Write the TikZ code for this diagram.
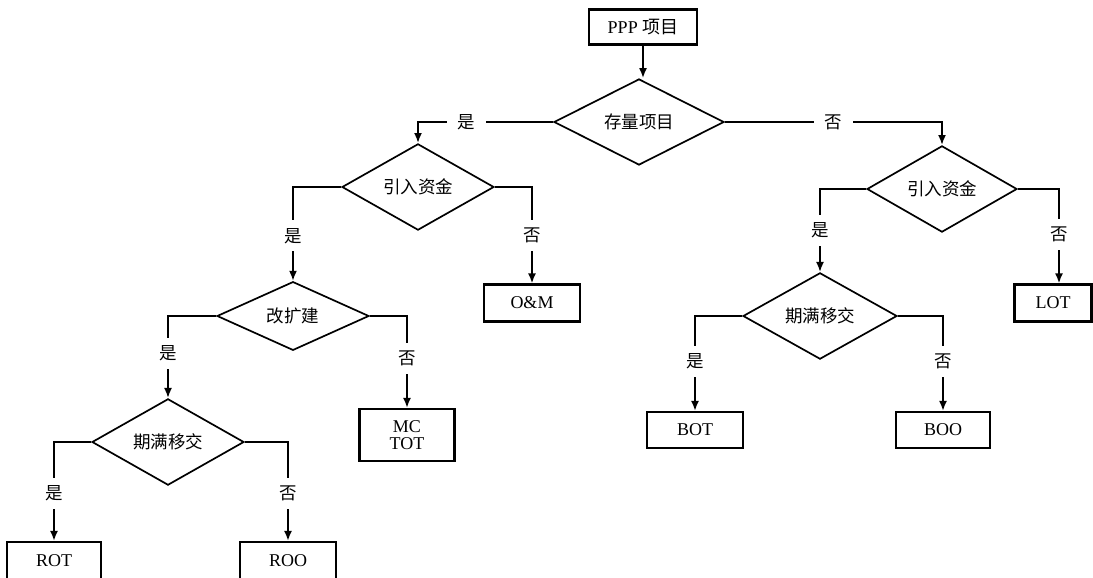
\documentclass[tikz,border=0pt]{standalone}
\usepackage{fontspec}
\setmainfont{Liberation Serif}
\newfontfamily\cjk{Noto Sans CJK SC}
\usetikzlibrary{shapes.geometric,arrows.meta}
\tikzset{
  box/.style={draw, line width=2.2pt, rectangle, inner sep=0pt, font=\fontsize{18}{20}\selectfont, align=center},
  dia/.style={draw, line width=1.7pt, diamond, inner sep=0pt, font=\fontsize{17.5}{19}\selectfont\cjk},
  conn/.style={line width=1.8pt, -{Latex[length=10pt,width=8pt]}},
  labv/.style={fill=white, inner xsep=1pt, inner ysep=8pt, font=\fontsize{17.5}{19}\selectfont\cjk},
  labh/.style={fill=white, inner xsep=11pt, inner ysep=1pt, font=\fontsize{17.5}{19}\selectfont\cjk},
}
\begin{document}
\begin{tikzpicture}[x=1pt,y=-1pt]
\useasboundingbox (0,0) rectangle (1093,578);
% nodes
\node[box, minimum width=108pt, minimum height=35pt] (ppp) at (643,27) {PPP {\cjk 项目}};
\node[dia, minimum width=170pt, minimum height=62pt] (d0) at (639,122) {存量项目};
\node[dia, minimum width=152pt, minimum height=61pt] (d1L) at (418,187) {引入资金};
\node[dia, minimum width=150pt, minimum height=62pt] (d1R) at (942,189) {引入资金};
\node[dia, minimum width=152pt, minimum height=61pt] (d2L) at (293,316) {改扩建};
\node[dia, minimum width=154pt, minimum height=62pt] (d3R) at (820,316) {期满移交};
\node[dia, minimum width=152pt, minimum height=62pt] (d3L) at (168,442) {期满移交};
\node[box, minimum width=96pt, minimum height=37pt] (om) at (532,303) {O\&M};
\node[box, minimum width=77pt, minimum height=37pt] (lot) at (1053,303) {LOT};
\node[box, minimum width=96pt, minimum height=36pt] (bot) at (695,430) {BOT};
\node[box, minimum width=94pt, minimum height=36pt] (boo) at (943,430) {BOO};
\node[box, minimum width=95pt, minimum height=52pt] (mctot) at (407,435) {MC\\[-3pt]TOT};
\node[box, minimum width=94pt, minimum height=38pt] (rot) at (54,561) {ROT};
\node[box, minimum width=96pt, minimum height=38pt] (roo) at (288,561) {ROO};
% connectors
\draw[conn] (ppp.south) -- (ppp.south |- d0.north);
\draw[conn] (d0.west) -| node[labh, pos=0.32] {是} (d1L.north);
\draw[conn] (d0.east) -| node[labh, pos=0.25] {否} (d1R.north);
\draw[conn] (d1L.west) -| node[labv, pos=0.76] {是} (d2L.north);
\draw[conn] (d1L.east) -| node[labv, pos=0.75] {否} (om.north);
\draw[conn] (d1R.west) -| node[labv, pos=0.75] {是} (d3R.north);
\draw[conn] (d1R.east) -| node[labv, pos=0.74] {否} ([xshift=6pt]lot.north);
\draw[conn] (d2L.west) -| node[labv, pos=0.73] {是} (d3L.north);
\draw[conn] (d2L.east) -| node[labv, pos=0.73] {否} (mctot.north);
\draw[conn] (d3R.west) -| node[labv, pos=0.74] {是} (bot.north);
\draw[conn] (d3R.east) -| node[labv, pos=0.74] {否} (boo.north);
\draw[conn] (d3L.west) -| node[labv, pos=0.76] {是} (rot.north);
\draw[conn] (d3L.east) -| node[labv, pos=0.76] {否} (roo.north);
\end{tikzpicture}
\end{document}
